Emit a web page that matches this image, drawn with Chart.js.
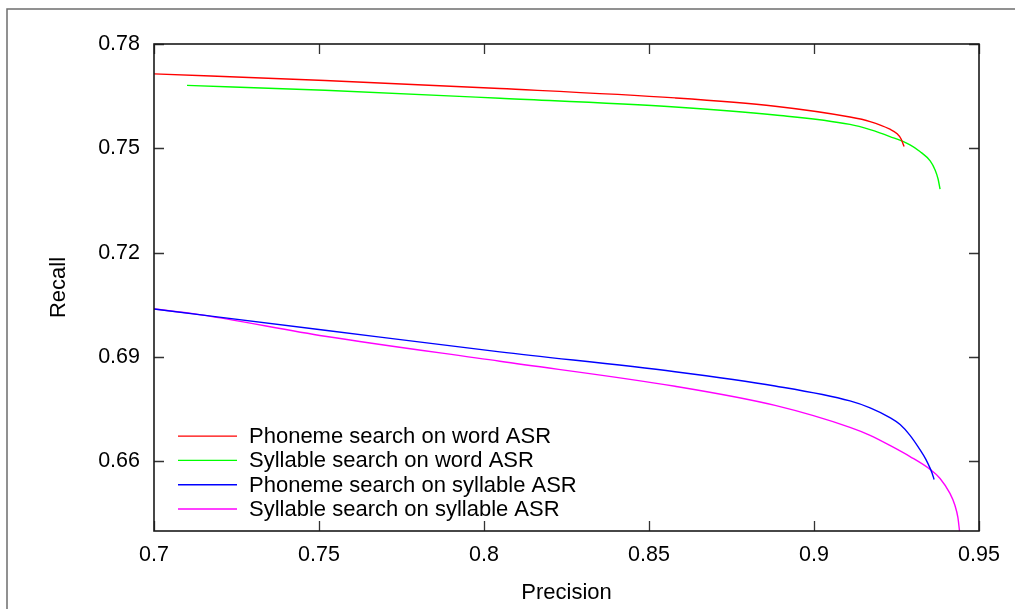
<!DOCTYPE html>
<html>
<head>
<meta charset="utf-8">
<script src="https://cdn.jsdelivr.net/npm/chart.js@4/dist/chart.umd.min.js"></script>
<style>
  html, body { margin: 0; padding: 0; background: #fff; }
  #wrap { width: 1015px; height: 609px; position: relative; }
</style>
</head>
<body>
<div id="wrap"><canvas id="c"></canvas></div>
<script>
// ---- data ----
const seriesLabels = [
  'Phoneme search on word ASR',
  'Syllable search on word ASR',
  'Phoneme search on syllable ASR',
  'Syllable search on syllable ASR'
];
const seriesColors = ['#ff0000', '#00ff00', '#0000ff', '#ff00ff'];

const phonemeWordX = [0.7000, 0.7518, 0.8048, 0.8579, 0.8882, 0.9109, 0.9170, 0.9230, 0.9252, 0.9264, 0.9273];
const phonemeWordY = [0.7714, 0.7695, 0.7672, 0.7645, 0.7621, 0.7590, 0.7577, 0.7555, 0.7542, 0.7527, 0.7505];

const syllableWordX = [0.7100, 0.7518, 0.8048, 0.8579, 0.8882, 0.9109, 0.9170, 0.9230, 0.9291, 0.9321, 0.9352, 0.9367, 0.9376, 0.9382];
const syllableWordY = [0.7681, 0.7667, 0.7644, 0.7619, 0.7596, 0.7569, 0.7554, 0.7534, 0.7510, 0.7491, 0.7464, 0.7438, 0.7412, 0.7383];

const phonemeSylX = [0.7000, 0.7518, 0.8048, 0.8579, 0.8882, 0.9109, 0.9170, 0.9230, 0.9261, 0.9291, 0.9321, 0.9339, 0.9352, 0.9358, 0.9364];
const phonemeSylY = [0.7038, 0.6977, 0.6915, 0.6858, 0.6817, 0.6774, 0.6754, 0.6726, 0.6706, 0.6675, 0.6634, 0.6606, 0.6580, 0.6566, 0.6548];

const syllableSylX = [0.7000, 0.7118, 0.7518, 0.8048, 0.8579, 0.8882, 0.9109, 0.9170, 0.9230, 0.9291, 0.9352, 0.9382, 0.9412, 0.9427, 0.9436, 0.9441];
const syllableSylY = [0.7038, 0.7025, 0.6960, 0.6888, 0.6816, 0.6761, 0.6698, 0.6675, 0.6646, 0.6614, 0.6577, 0.6551, 0.6508, 0.6474, 0.6439, 0.6400];

const xTicks = [0.7, 0.75, 0.8, 0.85, 0.9, 0.95];
const yTicks = [0.66, 0.69, 0.72, 0.75, 0.78];
const xRange = [0.7, 0.95];
const yRange = [0.64, 0.78];
const xTitle = 'Precision';
const yTitle = 'Recall';

// ---- build ----
const FONT = '"Liberation Sans", Arial, Helvetica, sans-serif';
const allX = [phonemeWordX, syllableWordX, phonemeSylX, syllableSylX];
const allY = [phonemeWordY, syllableWordY, phonemeSylY, syllableSylY];

const datasets = seriesLabels.map((lab, i) => ({
  label: lab,
  data: allX[i].map((x, j) => ({ x: x, y: allY[i][j] })),
  borderColor: seriesColors[i],
  backgroundColor: seriesColors[i],
  borderWidth: 1.4,
  pointRadius: 0,
  fill: false,
  cubicInterpolationMode: 'monotone'
}));

const framePlugin = {
  id: 'frame',
  beforeDraw(chart) {
    const ctx = chart.ctx;
    ctx.save();
    ctx.strokeStyle = '#6e6e6e';
    ctx.lineWidth = 1.5;
    ctx.strokeRect(7, 9, 2000, 2000);
    ctx.restore();
  },
  afterDraw(chart) {
    const ctx = chart.ctx;
    const a = chart.chartArea;
    const xs = chart.scales.x, ys = chart.scales.y;
    ctx.save();
    // inward ticks on all four sides
    ctx.strokeStyle = '#333';
    ctx.lineWidth = 1.3;
    ctx.beginPath();
    xTicks.forEach(v => {
      const p = Math.round(xs.getPixelForValue(v)) + 0.5;
      ctx.moveTo(p, a.bottom); ctx.lineTo(p, a.bottom - 10);
      ctx.moveTo(p, a.top); ctx.lineTo(p, a.top + 10);
    });
    yTicks.forEach(v => {
      const p = Math.round(ys.getPixelForValue(v)) + 0.5;
      ctx.moveTo(a.left, p); ctx.lineTo(a.left + 10, p);
      ctx.moveTo(a.right, p); ctx.lineTo(a.right - 10, p);
    });
    ctx.stroke();
    // plot border
    ctx.strokeStyle = '#1a1a1a';
    ctx.lineWidth = 1.6;
    ctx.strokeRect(a.left, a.top, a.right - a.left, a.bottom - a.top);
    // legend, lower-left inside the plot
    ctx.font = '22px ' + FONT;
    ctx.textBaseline = 'middle';
    ctx.textAlign = 'left';
    const n = chart.data.datasets.length;
    chart.data.datasets.forEach((ds, i) => {
      const y = a.bottom - 22 - (n - 1 - i) * 24.3;
      ctx.strokeStyle = ds.borderColor;
      ctx.lineWidth = 1.4;
      ctx.beginPath();
      ctx.moveTo(a.left + 24, y); ctx.lineTo(a.left + 83, y);
      ctx.stroke();
      ctx.fillStyle = '#000';
      ctx.fillText(ds.label, a.left + 95, y + 1);
    });
    ctx.restore();
  }
};

new Chart(document.getElementById('c'), {
  type: 'line',
  data: { datasets },
  plugins: [framePlugin],
  options: {
    responsive: true,
    maintainAspectRatio: false,
    animation: false,
    layout: { padding: { top: 44, right: 36, left: 0, bottom: 0 } },
    plugins: { legend: { display: false }, tooltip: { enabled: false } },
    scales: {
      x: {
        type: 'linear',
        min: xRange[0], max: xRange[1],
        afterBuildTicks: s => { s.ticks = xTicks.map(v => ({ value: v })); },
        afterFit: s => { s.height = 78; },
        grid: { display: false, drawTicks: false },
        border: { display: false },
        ticks: {
          color: '#000', font: { family: FONT, size: 21.5 }, padding: 11,
          maxRotation: 0, autoSkip: false,
          callback: v => String(+v.toFixed(2))
        },
        title: { display: true, text: xTitle, color: '#000', font: { family: FONT, size: 22 }, padding: { top: 0, bottom: 3 } }
      },
      y: {
        type: 'linear',
        min: yRange[0], max: yRange[1],
        afterBuildTicks: s => { s.ticks = yTicks.map(v => ({ value: v })); },
        afterFit: s => { s.width = 154; },
        grid: { display: false, drawTicks: false },
        border: { display: false },
        ticks: {
          color: '#000', font: { family: FONT, size: 21.5 }, padding: 14,
          autoSkip: false,
          callback: v => String(+v.toFixed(2))
        },
        title: { display: true, text: yTitle, color: '#000', font: { family: FONT, size: 22 }, padding: { top: 46, bottom: 0 } }
      }
    }
  }
});
</script>
</body>
</html>
